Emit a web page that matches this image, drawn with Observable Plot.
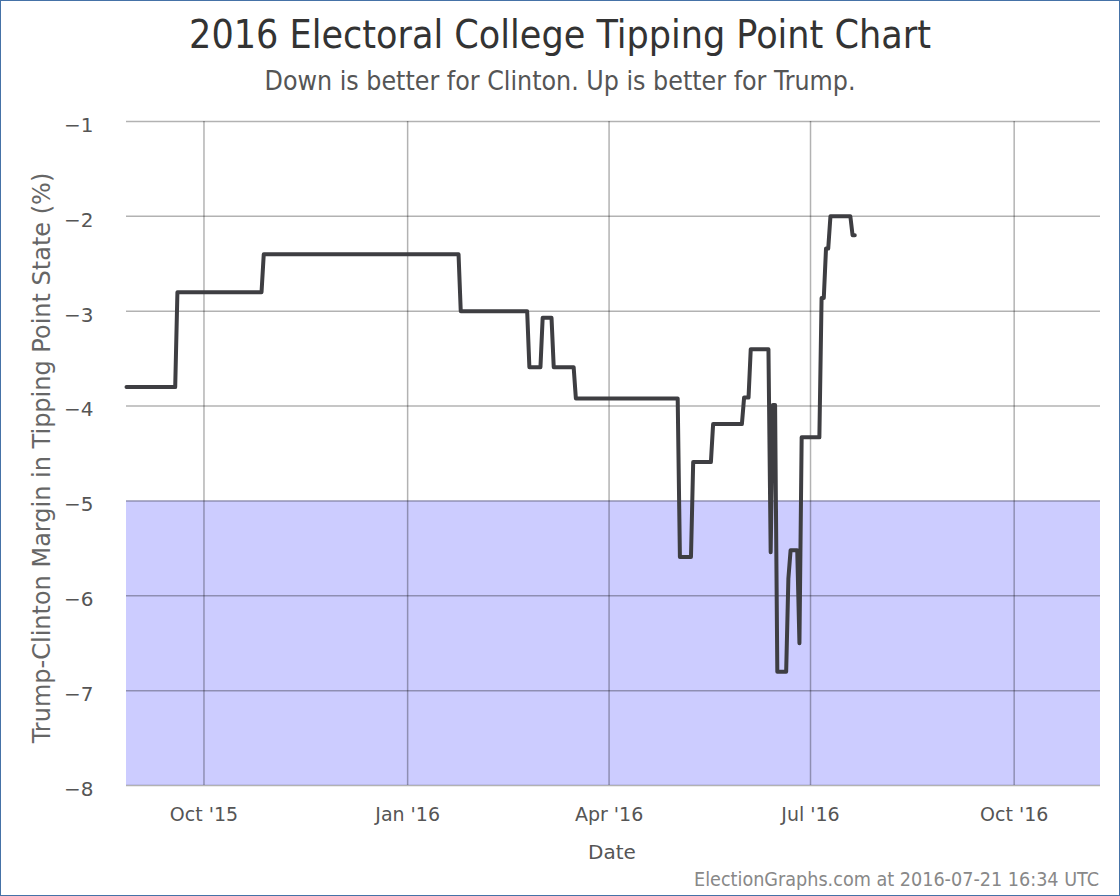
<!DOCTYPE html>
<html>
<head>
<meta charset="utf-8">
<script src="https://cdn.jsdelivr.net/npm/d3@7"></script>
<script src="https://cdn.jsdelivr.net/npm/@observablehq/plot@0.6"></script>
<style>
  body { margin: 0; background: #fff; }
  #frame { position: relative; box-sizing: border-box; width: 1120px; height: 896px; border: 1px solid #4572a7; overflow: hidden; background: #fff; font-family: "DejaVu Sans", sans-serif; }
  .narrow { font-family: "DejaVu Sans Condensed", "DejaVu Sans", sans-serif; font-stretch: condensed; }
  #title { position: absolute; left: 0; width: 100%; top: 10px; text-align: center; font-size: 39px; line-height: 48px; color: #333; }
  #subtitle { position: absolute; left: 0; width: 100%; top: 64px; text-align: center; font-size: 26.5px; line-height: 32px; color: #555; }
  #chart { position: absolute; left: 0; top: 99px; }
  #ylabel { position: absolute; left: 41px; top: 457px; width: 800px; margin-left: -400px; text-align: center; font-size: 24px; line-height: 28px; margin-top: -14px; color: #666; transform: rotate(-90deg); white-space: nowrap; }
  #xlabel { position: absolute; left: 0; width: 1222px; top: 838px; text-align: center; font-size: 20px; line-height: 26px; color: #555; }
  #caption { position: absolute; right: 20px; top: 868px; font-size: 19.6px; line-height: 22px; color: #888; }
</style>
</head>
<body>
<div id="frame">
  <div id="title" class="narrow">2016 Electoral College Tipping Point Chart</div>
  <div id="subtitle" class="narrow">Down is better for Clinton. Up is better for Trump.</div>
  <div id="chart"></div>
  <div id="ylabel">Trump-Clinton Margin in Tipping Point State (%)</div>
  <div id="xlabel">Date</div>
  <div id="caption" class="narrow">ElectionGraphs.com at 2016-07-21 16:34 UTC</div>
</div>
<script>
// Tipping point margin (Trump − Clinton, %) at each change date
const dates = [
  "2015-08-27", "2015-09-18", "2015-09-19", "2015-10-27", "2015-10-28",
  "2016-01-24", "2016-01-25", "2016-02-24", "2016-02-25", "2016-03-01",
  "2016-03-02", "2016-03-06", "2016-03-07", "2016-03-16", "2016-03-17",
  "2016-05-02", "2016-05-03", "2016-05-08", "2016-05-09", "2016-05-17",
  "2016-05-18", "2016-05-31", "2016-06-01", "2016-06-03", "2016-06-04",
  "2016-06-12", "2016-06-13", "2016-06-14", "2016-06-15", "2016-06-16",
  "2016-06-20", "2016-06-21", "2016-06-22", "2016-06-25", "2016-06-26",
  "2016-06-27", "2016-07-05", "2016-07-06", "2016-07-07", "2016-07-08",
  "2016-07-09", "2016-07-10", "2016-07-19", "2016-07-20", "2016-07-21"
];
const margins = [
  -3.80, -3.80, -2.80, -2.80, -2.40,
  -2.40, -3.00, -3.00, -3.59, -3.59,
  -3.07, -3.07, -3.59, -3.59, -3.92,
  -3.92, -5.59, -5.59, -4.59, -4.59,
  -4.19, -4.19, -3.91, -3.91, -3.40,
  -3.40, -5.54, -3.99, -3.99, -6.80,
  -6.80, -5.82, -5.52, -5.52, -6.50,
  -4.33, -4.33, -2.86, -2.86, -2.34,
  -2.34, -2.00, -2.00, -2.20, -2.20
];
const xDomain = ["2015-08-27", "2016-11-09"];
const xTicks = ["2015-10-01", "2016-01-01", "2016-04-01", "2016-07-01", "2016-10-01"];
const yTicks = [-1, -2, -3, -4, -5, -6, -7, -8];
const clintonZone = [-5, -8]; // shaded band

const parse = d3.utcParse("%Y-%m-%d");
const data = dates.map((d, i) => ({date: parse(d), margin: margins[i]}));
const band = [{x1: parse(xDomain[0]), x2: parse(xDomain[1]), y1: clintonZone[0], y2: clintonZone[1]}];
const fmt = d3.utcFormat("%b '%y");
const yFmt = d => (d < 0 ? "\u2212" : "") + Math.abs(d);

const chart = Plot.plot({
  width: 1118,
  height: 760,
  marginLeft: 125,
  marginRight: 19,
  marginTop: 21,
  marginBottom: 75,
  style: {fontFamily: "'DejaVu Sans', sans-serif", fontSize: "19px", color: "#555", background: "transparent"},
  x: {type: "utc", domain: xDomain.map(parse), label: null},
  y: {domain: [-8, -1], label: null},
  marks: [
    Plot.rect(band, {x1: "x1", x2: "x2", y1: "y1", y2: "y2", fill: "#ccccff"}),
    Plot.gridY(yTicks, {stroke: "#000", strokeOpacity: 0.3, strokeWidth: 1.5}),
    Plot.gridX(xTicks.map(parse), {stroke: "#000", strokeOpacity: 0.3, strokeWidth: 1.5}),
    Plot.axisY(yTicks, {tickSize: 0, tickPadding: 33, tickFormat: yFmt, label: null, fontSize: 20, dy: 4}),
    Plot.axisX(xTicks.map(parse), {tickSize: 0, tickPadding: 22, tickFormat: fmt, label: null, fontSize: 19}),
    Plot.line(data, {x: "date", y: "margin", stroke: "#3e3e42", strokeWidth: 4, strokeLinejoin: "round"})
  ]
});
document.getElementById("chart").appendChild(chart);
</script>
</body>
</html>
